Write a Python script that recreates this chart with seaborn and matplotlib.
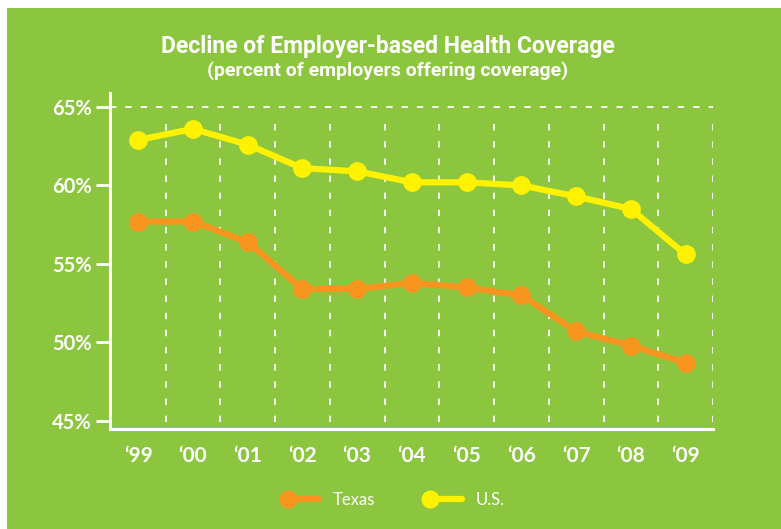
import numpy as np
import pandas as pd
import matplotlib
matplotlib.use("Agg")
import matplotlib.pyplot as plt
from matplotlib.patches import Rectangle
from matplotlib.lines import Line2D
from matplotlib.legend_handler import HandlerLine2D
import seaborn as sns

# Percent of employers offering health coverage
years = [1999, 2000, 2001, 2002, 2003, 2004, 2005, 2006, 2007, 2008, 2009]
year_labels = ["\u201899", "\u201800", "\u201801", "\u201802", "\u201803", "\u201804",
               "\u201805", "\u201806", "\u201807", "\u201808", "\u201809"]
texas = [57.7, 57.7, 56.4, 53.4, 53.4, 53.8, 53.5, 53.0, 50.7, 49.8, 48.7]
us = [62.9, 63.6, 62.6, 61.1, 60.9, 60.2, 60.2, 60.0, 59.3, 58.5, 55.6]
series_names = ["Texas", "U.S."]
y_ticks = [45, 50, 55, 60, 65]
y_tick_labels = ["45%", "50%", "55%", "60%", "65%"]

GREEN = "#8cc63f"
ORANGE = "#f7941e"
YELLOW = "#fff200"
WHITE = "#ffffff"

df = pd.DataFrame({
    "year": years * 2,
    "pct": texas + us,
    "region": [series_names[0]] * len(years) + [series_names[1]] * len(years),
})

sns.set_theme(style="white")
plt.rcParams["font.family"] = ["Lato", "DejaVu Sans"]

fig = plt.figure(figsize=(7.81, 5.29), dpi=100, facecolor="white")
fig.patches.append(Rectangle((7 / 781, 0), 1 - 7 / 781, 1 - 8 / 529,
                             transform=fig.transFigure, facecolor=GREEN,
                             edgecolor="none", zorder=-10))

ax = fig.add_axes([110 / 781, 1 - 429 / 529, (713 - 110) / 781, (429 - 93) / 529])
ax.set_facecolor("none")

palette = {series_names[0]: ORANGE, series_names[1]: YELLOW}
sns.lineplot(data=df, x="year", y="pct", hue="region", palette=palette,
             hue_order=series_names, marker="o", markersize=13.5,
             markeredgewidth=0, linewidth=4.5, legend=False, ax=ax, zorder=3)

ax.set_xlim(1998.486, 2009.5)
ax.set_ylim(44.48, 65.89)

# dashed guides between the years and across the top
ax.vlines([y + 0.5 for y in years], 44.9, 64.5, colors=WHITE, linewidth=1.3,
          linestyles=(0, (3.5, 6)), zorder=1)
ax.hlines(65, 1998.486, 2009.5, colors=WHITE, linewidth=1.3,
          linestyles=(0, (3.5, 5)), zorder=1)

for side in ["top", "right"]:
    ax.spines[side].set_visible(False)
for side in ["left", "bottom"]:
    ax.spines[side].set_color(WHITE)
    ax.spines[side].set_linewidth(2.2)

ax.set_yticks(y_ticks, y_tick_labels)
ax.set_xticks(years, year_labels)
ax.tick_params(axis="y", left=True, length=10, width=2, color=WHITE, pad=3,
               labelcolor=WHITE, labelsize=14.5)
ax.tick_params(axis="x", bottom=False, pad=6, labelcolor=WHITE, labelsize=15)
for lab in ax.get_xticklabels() + ax.get_yticklabels():
    lab.set_fontweight("bold")
ax.set_xlabel("")
ax.set_ylabel("")

fig.text(388 / 781, 1 - 47 / 529, "Decline of Employer-based Health Coverage",
         ha="center", va="center", color=WHITE, fontsize=16.5, fontweight="bold",
         family=["Roboto", "DejaVu Sans"])
fig.text(388 / 781, 1 - 71 / 529, "(percent of employers offering coverage)",
         ha="center", va="center", color=WHITE, fontsize=14, fontweight="bold",
         family=["Roboto", "DejaVu Sans"])


class LeftMarkerHandler(HandlerLine2D):
    """Legend key with the dot at the start of the line stub."""

    def create_artists(self, legend, orig_handle, xdescent, ydescent,
                       width, height, fontsize, trans):
        artists = super().create_artists(legend, orig_handle, xdescent, ydescent,
                                         width, height, fontsize, trans)
        for a in artists:
            if isinstance(a, Line2D):
                a.set_markevery([0])
        return artists


handles = [Line2D([], [], color=palette[n], marker="o", markersize=13,
                  markeredgewidth=0, linewidth=4.5) for n in series_names]
leg = fig.legend(handles, series_names, loc="center",
                 bbox_to_anchor=(396 / 781, 1 - 500 / 529), ncol=2,
                 frameon=False, borderpad=0, handlelength=1.9,
                 handletextpad=0.8, columnspacing=3.3,
                 handler_map={Line2D: LeftMarkerHandler(numpoints=1)},
                 prop={"family": ["Lato", "DejaVu Sans"], "size": 12})
for t in leg.get_texts():
    t.set_color(WHITE)

fig.savefig("out.png", dpi=100, facecolor=fig.get_facecolor())
